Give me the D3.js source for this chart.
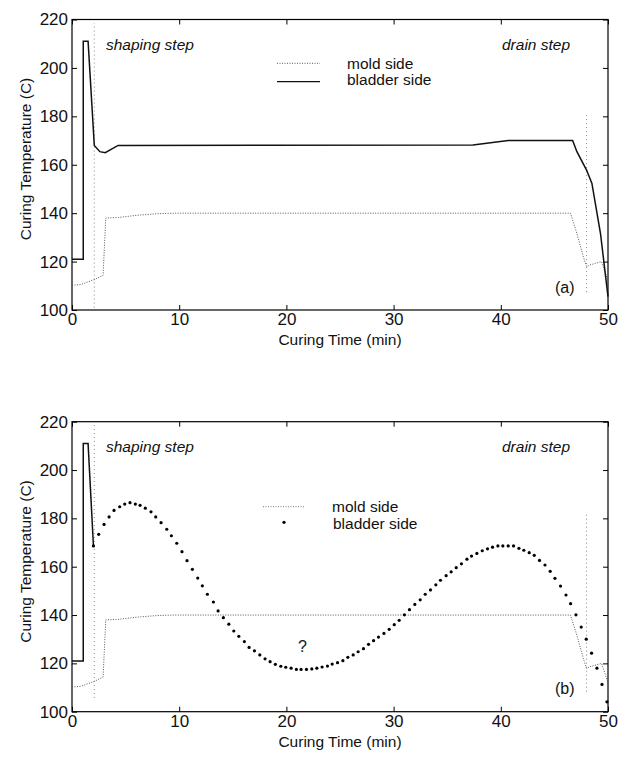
<!DOCTYPE html>
<html>
<head>
<meta charset="utf-8">
<script src="https://cdn.jsdelivr.net/npm/d3@7"></script>
<style>
  body { margin: 0; background: #fff; }
  svg text { font-family: "Liberation Sans", Arial, sans-serif; fill: #111; }
</style>
</head>
<body>
<svg id="chart"></svg>
<script>
// mold side (dotted), same in both panels
const moldTime = [0, 0.8, 2.0, 2.9, 3.15, 4.3, 6.0, 8.0, 9.5, 46.5, 47.1, 47.7, 48.0, 48.3, 49.4, 50];
const moldTemp = [110.2, 110.5, 112.4, 114.3, 138, 138.2, 139.1, 139.8, 140, 140, 131.6, 122, 117.9, 118.6, 120, 112];

// bladder side (a), solid line
const bladderTimeA = [0, 1.05, 1.05, 1.5, 2.08, 2.6, 3.1, 4.3, 37.4, 40.7, 46.7, 47.1, 48.0, 48.5, 49.3, 50];
const bladderTempA = [121, 121, 211, 211, 168, 165.4, 165, 168, 168.2, 170, 170, 165.4, 157.8, 152.3, 131.6, 105.5];

// bladder side (b): solid start, then points
const bladderTimeB = [0, 1.05, 1.05, 1.5, 2.0];
const bladderTempB = [121, 121, 211, 211, 168.6];
const dotTime = [2.0, 2.49, 2.99, 3.46, 3.92, 4.45, 4.92, 5.41, 5.91, 6.35, 6.84, 7.37, 7.81, 8.31, 8.84,
  9.27, 9.77, 10.26, 10.73, 11.23, 11.73, 12.16, 12.63, 13.19, 13.63, 14.12, 14.63, 15.09, 15.56, 16.08,
  16.52, 17.02, 17.52, 18.01, 18.48, 18.97, 19.48, 19.94, 20.44, 20.93, 21.37, 21.87, 22.37, 22.84, 23.33,
  23.83, 24.27, 24.77, 25.27, 25.73, 26.23, 26.69, 27.19, 27.66, 28.13, 28.59, 29.1, 29.59, 30.06, 30.52,
  31.01, 31.48, 31.98, 32.48, 32.95, 33.44, 33.94, 34.37, 34.9, 35.37, 35.84, 36.33, 36.84, 37.27, 37.77,
  38.27, 38.76, 39.23, 39.73, 40.19, 40.69, 41.19, 41.69, 42.15, 42.65, 43.12, 43.61, 44.12, 44.61, 45.05,
  45.57, 46.08, 46.51, 47.01, 47.5, 47.97, 48.47, 48.97, 49.44, 49.9];
const dotTemp = [168.6, 173.4, 177.5, 180.6, 183.3, 184.8, 185.9, 186.5, 185.9, 185.4, 184.2, 182.7, 180.6, 178.2, 175.5,
  172.8, 169.7, 166.2, 162.5, 158.9, 155.3, 152.1, 148.6, 145.4, 141.7, 138.9, 136.2, 133.4, 131.2, 129.0,
  126.6, 125.2, 123.5, 121.9, 120.7, 119.6, 118.8, 118.4, 118.0, 117.5, 117.5, 117.5, 117.7, 118.0, 118.5,
  118.9, 119.7, 120.3, 121.1, 122.5, 123.5, 124.8, 126.1, 127.9, 129.4, 130.9, 132.4, 134.1, 136.0, 137.8,
  140.1, 142.2, 144.4, 146.3, 148.6, 150.4, 152.5, 154.4, 156.3, 157.9, 159.6, 161.2, 163.1, 164.4, 165.5,
  166.6, 167.4, 168.1, 168.6, 168.6, 168.6, 168.6, 167.6, 166.8, 165.8, 164.7, 162.6, 160.7, 158.1, 155.2,
  152.0, 148.3, 144.7, 140.1, 135.0, 130.0, 124.2, 118.0, 111.3, 104.1];

// step boundaries (thin dotted verticals)
const stepTime = [2.08, 48.0];
const stepRangeA = [[101, 218.5], [107.4, 180.5]];
const stepRangeB = [[105.7, 218.6], [108.3, 182.7]];

const xTicks = [0, 10, 20, 30, 40, 50];
const yTicks = [100, 120, 140, 160, 180, 200, 220];

const width = 628, height = 757;
const svg = d3.select("#chart").attr("width", width).attr("height", height);

const zip = (a, b) => a.map((v, i) => [v, b[i]]);

function drawPanel(p) {
  const x = d3.scaleLinear().domain([0, 50]).range([72, 608]);
  const y = d3.scaleLinear().domain([100, 220]).range([p.bottom, p.top]);
  const g = svg.append("g");

  g.append("g")
    .attr("transform", `translate(0,${p.bottom})`)
    .call(d3.axisBottom(x).tickValues(xTicks).tickSizeInner(-5).tickSizeOuter(0).tickPadding(3))
    .call(a => a.selectAll("text").attr("font-size", 17));
  g.append("g")
    .attr("transform", `translate(0,${p.top})`)
    .call(d3.axisTop(x).tickValues(xTicks).tickSizeInner(-5).tickSizeOuter(0).tickFormat(""));
  g.append("g")
    .attr("transform", "translate(72,0)")
    .call(d3.axisLeft(y).tickValues(yTicks).tickSizeInner(-5).tickSizeOuter(0).tickPadding(4))
    .call(a => a.selectAll("text").attr("font-size", 17));
  g.append("g")
    .attr("transform", "translate(608,0)")
    .call(d3.axisRight(y).tickValues(yTicks).tickSizeInner(-5).tickSizeOuter(0).tickFormat(""));
  g.selectAll(".domain").remove();
  g.selectAll(".tick line").attr("stroke", "#000");
  g.selectAll(".tick text").attr("font-family", "'Liberation Sans', Arial, sans-serif").attr("fill", "#111");

  g.append("rect")
    .attr("x", 72).attr("y", p.top).attr("width", 536).attr("height", p.bottom - p.top)
    .attr("fill", "none").attr("stroke", "#000").attr("stroke-width", 1.2);

  const line = d3.line().x(d => x(d[0])).y(d => y(d[1]));

  // step markers
  g.selectAll(".step").data(stepTime).enter().append("line")
    .attr("x1", d => x(d)).attr("x2", d => x(d))
    .attr("y1", (d, i) => y(p.steps[i][0])).attr("y2", (d, i) => y(p.steps[i][1]))
    .attr("stroke", "#888").attr("stroke-width", 1).attr("stroke-dasharray", "1,3");

  g.append("path").datum(zip(moldTime, moldTemp))
    .attr("d", line).attr("fill", "none")
    .attr("stroke", "#555").attr("stroke-width", 1).attr("stroke-dasharray", "1,1.5");

  g.append("path").datum(zip(p.bTime, p.bTemp))
    .attr("d", line).attr("fill", "none")
    .attr("stroke", "#111").attr("stroke-width", 1.5);

  if (p.dots) {
    g.selectAll(".dot").data(zip(dotTime, dotTemp)).enter().append("circle")
      .attr("cx", d => x(d[0])).attr("cy", d => y(d[1])).attr("r", 1.6).attr("fill", "#000");
  }

  // labels
  g.append("text").attr("x", 340).attr("y", p.bottom + 35).attr("text-anchor", "middle")
    .attr("font-size", 15.5).text("Curing Time (min)");
  g.append("text").attr("transform", `translate(31,${p.ycenter}) rotate(-90)`)
    .attr("text-anchor", "middle").attr("font-size", 15.5).text("Curing Temperature (C)");
  g.append("text").attr("x", 106).attr("y", p.top + 30).attr("font-size", 15.5)
    .attr("font-style", "italic").text("shaping step");
  g.append("text").attr("x", 502).attr("y", p.top + 30).attr("font-size", 15.5)
    .attr("font-style", "italic").text("drain step");
  g.append("text").attr("x", 555).attr("y", p.bottom - 17.5).attr("font-size", 16).text(p.tag);

  return { x, y, g };
}

// panel (a)
const pa = drawPanel({ top: 19.5, bottom: 310, ycenter: 159, bTime: bladderTimeA, bTemp: bladderTempA,
  steps: stepRangeA, tag: "(a)", dots: false });
pa.g.append("line").attr("x1", 277).attr("x2", 320).attr("y1", 63.3).attr("y2", 63.3)
  .attr("stroke", "#555").attr("stroke-dasharray", "1,1.5");
pa.g.append("line").attr("x1", 277).attr("x2", 320).attr("y1", 81.7).attr("y2", 81.7)
  .attr("stroke", "#111").attr("stroke-width", 1.2);
pa.g.append("text").attr("x", 347).attr("y", 68.5).attr("font-size", 15.5).text("mold side");
pa.g.append("text").attr("x", 347).attr("y", 85).attr("font-size", 15.5).text("bladder side");

// panel (b)
const pb = drawPanel({ top: 421.7, bottom: 711.7, ycenter: 561.5, bTime: bladderTimeB, bTemp: bladderTempB,
  steps: stepRangeB, tag: "(b)", dots: true });
pb.g.append("line").attr("x1", 263).attr("x2", 305).attr("y1", 506.7).attr("y2", 506.7)
  .attr("stroke", "#777").attr("stroke-dasharray", "1,1.5");
pb.g.append("circle").attr("cx", 284).attr("cy", 522.3).attr("r", 1.6).attr("fill", "#000");
pb.g.append("text").attr("x", 332).attr("y", 512).attr("font-size", 15.5).text("mold side");
pb.g.append("text").attr("x", 333).attr("y", 528.5).attr("font-size", 15.5).text("bladder side");
pb.g.append("text").attr("x", 298).attr("y", 651.5).attr("font-size", 16).text("?");
</script>
</body>
</html>
